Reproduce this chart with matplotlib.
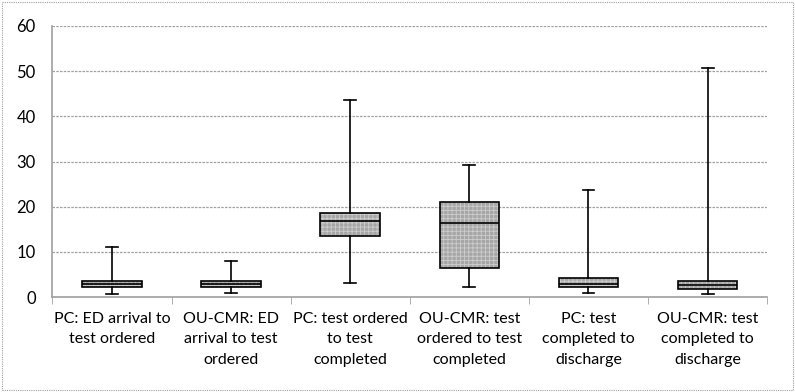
import matplotlib

matplotlib.use("Agg")
import matplotlib.pyplot as plt
from matplotlib.colors import to_rgba
from matplotlib.patches import Rectangle

categories = [
    "PC: ED arrival to\ntest ordered",
    "OU-CMR: ED\narrival to test\nordered",
    "PC: test ordered\nto test\ncompleted",
    "OU-CMR: test\nordered to test\ncompleted",
    "PC: test\ncompleted to\ndischarge",
    "OU-CMR: test\ncompleted to\ndischarge",
]
whislo = [0.7, 1.0, 3.2, 2.3, 0.9, 0.7]
q1 = [2.2, 2.2, 13.5, 6.5, 2.2, 1.8]
med = [3.0, 3.0, 16.8, 16.3, 2.8, 2.7]
q3 = [3.6, 3.6, 18.7, 21.0, 4.2, 3.6]
whishi = [11.0, 8.0, 43.5, 29.3, 23.8, 50.6]
yticks = [0, 10, 20, 30, 40, 50, 60]

plt.rcParams["font.family"] = ["Lato", "DejaVu Sans"]
plt.rcParams["hatch.linewidth"] = 0.6

fig = plt.figure(figsize=(7.95, 3.92), dpi=100)
fig.patches.append(Rectangle((0.003, 0.005), 0.994, 0.99, transform=fig.transFigure,
                             fill=False, edgecolor="#a0a0a0", linewidth=0.8, linestyle=(0, (1, 1))))
ax = fig.add_axes([0.066, 0.242, 0.899, 0.692])

stats = [
    dict(whislo=a, q1=b, med=c, q3=d, whishi=e, label=lab)
    for a, b, c, d, e, lab in zip(whislo, q1, med, q3, whishi, categories)
]
bp = ax.bxp(stats, positions=range(len(stats)), widths=0.5, showfliers=False,
            patch_artist=True,
            boxprops=dict(facecolor="#a6a6a6", edgecolor="black", linewidth=1.2, hatch="++++"),
            medianprops=dict(color="black", linewidth=1.2),
            whiskerprops=dict(color="black", linewidth=1.2),
            capprops=dict(color="black", linewidth=1.2), capwidths=0.1)
# lighter texture inside the boxes, like the original's dotted fill
for box in bp["boxes"]:
    if hasattr(box, "set_hatchcolor"):
        box.set_hatchcolor("#cdcdcd")
    else:
        box._hatch_color = to_rgba("#cdcdcd")

ax.set_xlim(-0.5, len(stats) - 0.5)
ax.set_ylim(0, 60)
ax.set_yticks(yticks)
ax.yaxis.grid(True, color="#a0a0a0", linewidth=0.9, linestyle=(0, (2, 1)))
ax.set_axisbelow(True)
for s in ["top", "right"]:
    ax.spines[s].set_visible(False)
ax.spines["left"].set_color("#a0a0a0")
ax.spines["bottom"].set_color("#a0a0a0")
ax.spines["left"].set_linewidth(1.2)
ax.spines["bottom"].set_linewidth(1.2)
ax.tick_params(axis="y", length=0, labelsize=12, pad=12)
ax.tick_params(axis="x", which="major", length=0, labelsize=11.5, pad=11)
ax.set_xticks([i + 0.5 for i in range(-1, len(stats))], minor=True)
ax.tick_params(axis="x", which="minor", length=5, color="#a0a0a0", direction="out")
for lab in ax.get_xticklabels():
    lab.set_linespacing(1.55)

fig.savefig("out.png")
